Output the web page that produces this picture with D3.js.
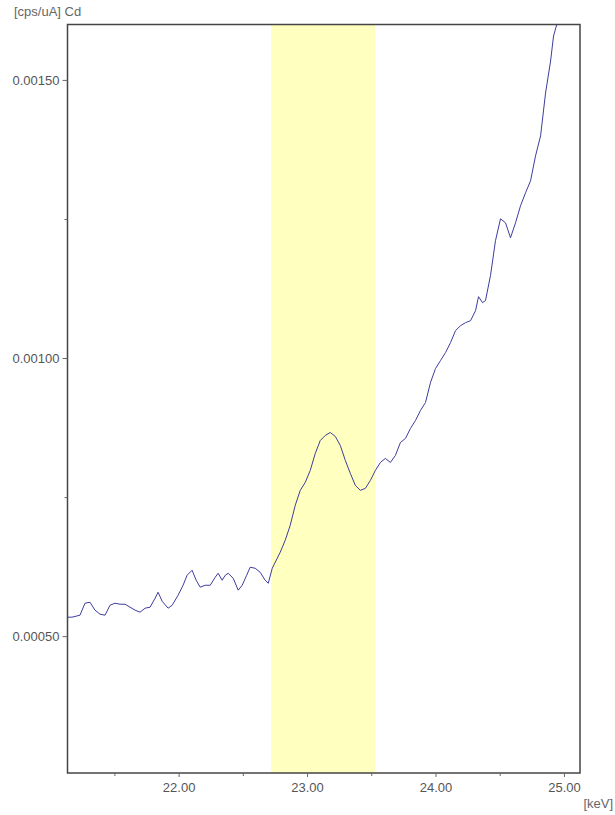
<!DOCTYPE html>
<html><head><meta charset="utf-8">
<script src="https://cdn.jsdelivr.net/npm/d3@7"></script>
<style>body{margin:0;background:#fff}svg{display:block}</style>
</head><body>
<script>
const energy=[21.131,21.170,21.232,21.271,21.310,21.349,21.388,21.427,21.466,21.505,21.544,21.583,21.622,21.661,21.700,21.739,21.778,21.817,21.840,21.872,21.918,21.950,21.996,22.035,22.066,22.105,22.137,22.168,22.207,22.246,22.285,22.308,22.339,22.363,22.386,22.425,22.464,22.495,22.530,22.557,22.596,22.635,22.674,22.698,22.729,22.791,22.830,22.869,22.908,22.947,22.986,23.025,23.064,23.103,23.142,23.181,23.220,23.259,23.298,23.337,23.376,23.415,23.454,23.493,23.532,23.571,23.610,23.649,23.688,23.727,23.766,23.805,23.844,23.883,23.922,23.961,24.000,24.039,24.078,24.117,24.156,24.195,24.234,24.273,24.312,24.335,24.366,24.389,24.428,24.467,24.506,24.545,24.584,24.623,24.662,24.701,24.740,24.779,24.818,24.857,24.896,24.919,24.943];
const intensityE5=[53.41,53.41,53.77,55.92,56.10,54.67,53.95,53.77,55.56,55.92,55.74,55.74,55.21,54.67,54.31,55.03,55.21,56.82,57.90,56.28,55.03,55.56,57.36,59.15,60.95,61.85,60.05,58.80,59.15,59.15,60.59,61.31,60.05,60.95,61.31,60.41,58.26,59.15,60.95,62.39,62.21,61.49,60.05,59.51,62.21,65.08,67.23,69.93,73.51,76.21,77.64,79.80,82.85,85.18,86.08,86.62,85.90,84.28,81.59,79.26,77.10,76.21,76.57,78.00,79.80,81.23,81.95,81.23,82.49,84.82,85.54,87.34,88.77,90.57,92.00,95.59,98.11,99.54,100.98,102.77,104.93,105.82,106.36,106.72,108.52,111.03,109.96,110.31,114.80,121.08,125.03,124.31,121.62,124.31,127.37,129.71,131.86,136.35,139.94,147.66,153.40,157.89,159.87];
const roi=[22.72,23.53];
const yTicks=[0.0005,0.0010,0.0015];
const xTicks=[22,23,24,25];

const W=615,H=815,L=67.5,R=580,T=24.5,B=773;
const svg=d3.select("body").append("svg").attr("width",W).attr("height",H);
const x=d3.scaleLinear().domain([21.135,25.125]).range([L,R]);
const y=d3.scaleLinear().domain([0.000254,0.0015996]).range([B,T]);
const font="Liberation Sans, Arial, sans-serif";
svg.append("rect").attr("x",x(roi[0])).attr("y",T).attr("width",x(roi[1])-x(roi[0])).attr("height",B-T).attr("fill","#ffffc0");
const data=energy.map((e,i)=>[e,intensityE5[i]*1e-5]);
svg.append("path").datum(data).attr("fill","none").attr("stroke","#3d3d9e").attr("stroke-width",1)
 .attr("d",d3.line().x(d=>x(d[0])).y(d=>y(d[1])));
svg.append("rect").attr("x",L).attr("y",T).attr("width",R-L).attr("height",B-T).attr("fill","none").attr("stroke","#444").attr("stroke-width",1.5);
const ya=svg.append("g").attr("transform",`translate(${L},0)`).call(d3.axisLeft(y).tickValues(yTicks).tickFormat(d3.format(".5f")).tickSize(5).tickPadding(3));
svg.append("g").attr("transform",`translate(${L},0)`).call(d3.axisLeft(y).tickValues([0.00075,0.00125]).tickFormat("").tickSize(3)).select(".domain").remove();
const xa=svg.append("g").attr("transform",`translate(0,${B})`).call(d3.axisBottom(x).tickValues(xTicks).tickFormat(d3.format(".2f")).tickSize(4).tickPadding(6));
svg.append("g").attr("transform",`translate(0,${B})`).call(d3.axisBottom(x).tickValues([21.5,22.5,23.5,24.5]).tickFormat("").tickSize(3)).select(".domain").remove();
svg.selectAll(".domain").remove();
svg.selectAll(".tick line").attr("stroke","#666");
svg.selectAll(".tick text").attr("fill","#555").style("font-family",font).style("font-size","13px");
svg.append("text").attr("x",14).attr("y",16).attr("fill","#666").style("font-family",font).style("font-size","13px").text("[cps/uA] Cd");
svg.append("text").attr("x",613).attr("y",808).attr("text-anchor","end").attr("fill","#666").style("font-family",font).style("font-size","13px").text("[keV]");
</script>
</body></html>
